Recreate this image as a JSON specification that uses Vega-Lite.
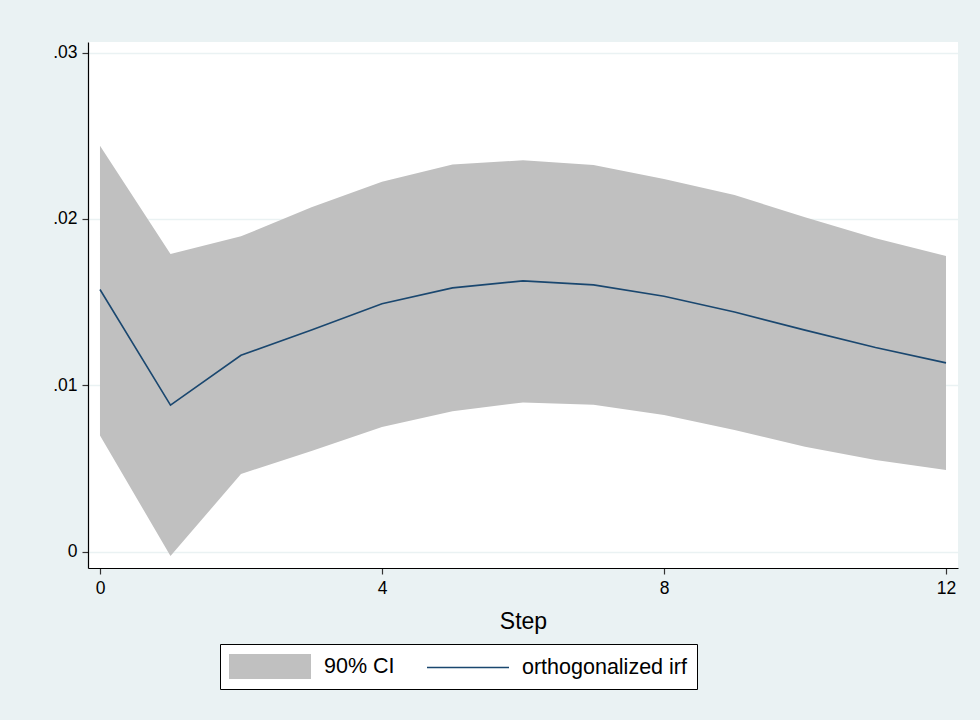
{
  "$schema": "https://vega.github.io/schema/vega-lite/v6.json",
  "autosize": {"type": "none"},
  "padding": {"left": 88, "top": 42, "right": 22, "bottom": 152},
  "width": 870,
  "height": 526,
  "background": "#EAF2F3",
  "config": {
    "view": {"fill": "white", "stroke": null},
    "font": "Liberation Sans",
    "axis": {"labelFont": "Liberation Sans", "titleFont": "Liberation Sans", "labelColor": "#000000", "titleColor": "#000000", "domainColor": "#000000", "tickColor": "#333333"}
  },
  "data": {
    "values": [
      {"step": 0, "hi": 0.0244, "irf": 0.01576, "lo": 0.00699},
      {"step": 1, "hi": 0.0179, "irf": 0.00881, "lo": -0.00026},
      {"step": 2, "hi": 0.01896, "irf": 0.01181, "lo": 0.00467},
      {"step": 3, "hi": 0.0207, "irf": 0.01332, "lo": 0.00605},
      {"step": 4, "hi": 0.02224, "irf": 0.01491, "lo": 0.00749},
      {"step": 5, "hi": 0.02327, "irf": 0.01586, "lo": 0.00845},
      {"step": 6, "hi": 0.02353, "irf": 0.01628, "lo": 0.00897},
      {"step": 7, "hi": 0.02325, "irf": 0.01604, "lo": 0.00883},
      {"step": 8, "hi": 0.0224, "irf": 0.01536, "lo": 0.00821},
      {"step": 9, "hi": 0.02145, "irf": 0.01441, "lo": 0.00731},
      {"step": 10, "hi": 0.0201, "irf": 0.01332, "lo": 0.00631},
      {"step": 11, "hi": 0.01884, "irf": 0.01228, "lo": 0.00551},
      {"step": 12, "hi": 0.01778, "irf": 0.01135, "lo": 0.00491}
    ]
  },
  "encoding": {
    "x": {
      "field": "step", "type": "quantitative",
      "scale": {"domain": [-0.17, 12.17], "nice": false, "zero": false},
      "axis": {"values": [0, 4, 8, 12], "title": "Step", "grid": false, "labelFontSize": 17.5, "titleFontSize": 23, "titleFontWeight": "normal", "tickSize": 6, "labelPadding": 5, "titlePadding": 14, "domainWidth": 1.2, "tickWidth": 1.2}
    }
  },
  "layer": [
    {
      "mark": {"type": "area", "opacity": 1},
      "encoding": {
        "y": {
          "field": "hi", "type": "quantitative",
          "scale": {"domain": [-0.00098, 0.03064], "nice": false, "zero": false},
          "axis": {"values": [0, 0.01, 0.02, 0.03], "title": null, "labelExpr": "datum.value == 0 ? '0' : replace(format(datum.value, '.2f'), '0.', '.')", "labelFontSize": 17.5, "tickSize": 6, "labelPadding": 5, "grid": true, "gridColor": "#EAF2F3", "gridWidth": 1.5, "domainWidth": 1.2, "tickWidth": 1.2}
        },
        "y2": {"field": "lo"},
        "color": {
          "datum": "90% CI",
          "type": "nominal",
          "scale": {"domain": ["90% CI", "orthogonalized irf"], "range": ["#C0C0C0", "#1A476F"]},
          "legend": {
            "title": null,
            "orient": "none",
            "legendX": 132,
            "legendY": 602,
            "direction": "horizontal",
            "columns": 2,
            "columnPadding": 32,
            "padding": 10,
            "strokeColor": "#000000",
            "fillColor": "#ffffff",
            "labelFont": "Liberation Sans",
            "labelFontSize": 21.5,
            "labelColor": "#000000",
            "labelLimit": 400,
            "labelOffset": 69,
            "symbolSize": 625,
            "symbolStrokeWidth": 0,
            "symbolType": {"expr": "datum.value === '90% CI' ? 'M-1.08,-1H5.48V1H-1.08Z' : 'M-1.08,-0.065H5.48V0.065H-1.08Z'"},
            "encode": {
              "symbols": {
                "update": {
                  "fill": {"signal": "datum.value === '90% CI' ? '#C0C0C0' : '#1A476F'"},
                  "stroke": {"value": "transparent"},
                  "opacity": {"value": 1},
                  "fillOpacity": {"value": 1}
                }
              }
            }
          }
        }
      }
    },
    {
      "mark": {"type": "line", "strokeWidth": 1.6},
      "encoding": {
        "y": {"field": "irf", "type": "quantitative"},
        "color": {"datum": "orthogonalized irf", "type": "nominal"}
      }
    }
  ]
}
